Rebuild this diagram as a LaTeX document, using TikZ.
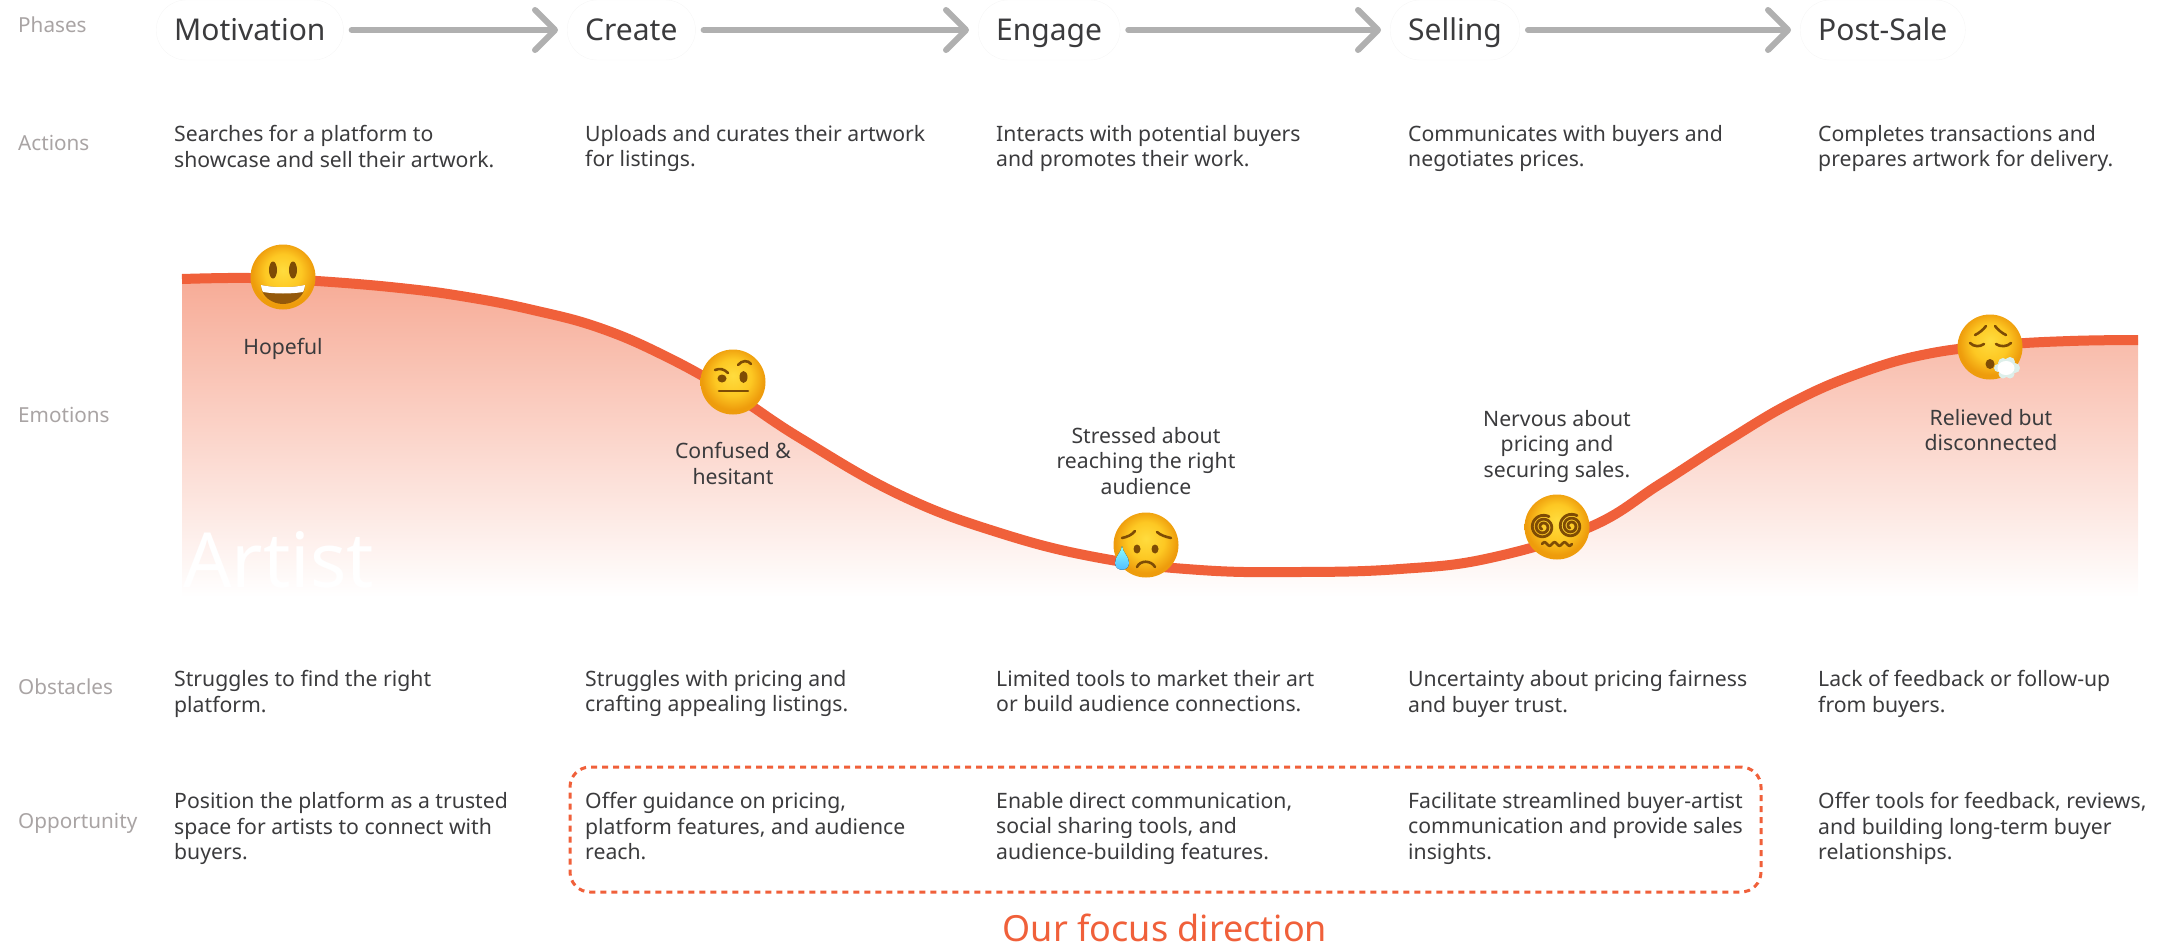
\documentclass[tikz,border=0pt]{standalone}
\usepackage{fontspec}
\setmainfont{Noto Sans}
\usetikzlibrary{arrows.meta}

\definecolor{curveorange}{HTML}{F0603A}
\definecolor{fillorange}{HTML}{F7AB96}
\definecolor{bodygray}{HTML}{3B3B3D}
\definecolor{labelgray}{HTML}{A9A4A4}
\definecolor{arrowgray}{HTML}{B0B0B0}
\definecolor{ringgray}{HTML}{F6F6F6}
\definecolor{faceyellow}{HTML}{FFDC3E}
\definecolor{facemid}{HTML}{FDC823}
\definecolor{faceedge}{HTML}{EE9C0C}
\definecolor{facebrown}{HTML}{7E4C05}
\definecolor{mouthbrown}{HTML}{94590A}
\definecolor{steamblue}{HTML}{DDEFEA}

\pgfdeclareradialshading{emojiball}{\pgfpoint{0bp}{5bp}}{color(0bp)=(faceyellow); color(14bp)=(facemid); color(24bp)=(faceedge); color(50bp)=(faceedge)}

\newcommand{\emotioncurve}{plot[smooth,tension=.7] coordinates {(182,279) (250,278) (317,281) (400,288) (467,297) (533,310) (600,328) (667,357) (733,394) (800,438) (900,495) (1000,533) (1100,558) (1200,570) (1300,572) (1400,569) (1490,558) (1590,527) (1660,484) (1727,441) (1793,402) (1860,373) (1927,354) (2000,345) (2070,341) (2138,340)}}

\tikzset{
  rowlabel/.style={anchor=west,inner sep=0pt,text=labelgray,font=\fontsize{20.7}{24}\selectfont},
  phasenode/.style={anchor=west,draw=ringgray,rounded corners=30pt,inner xsep=18pt,inner ysep=0pt,minimum height=60pt,text height=27pt,text depth=5pt,text=bodygray,font=\fontsize{30}{34}\selectfont},
  phasearrow/.style={arrowgray,line width=6pt,line cap=round,-{Straight Barb[length=20pt,width=40pt,round]},shorten <=8pt,shorten >=9pt},
  celltext/.style={anchor=north west,inner sep=0pt,align=left,text=bodygray,font=\fontsize{21.2}{25.6}\selectfont},
  moodtext/.style={anchor=north,inner sep=0pt,align=center,text=bodygray,font=\fontsize{21.2}{25.6}\selectfont},
  emojiface/.style={circle,inner sep=0pt,minimum size=65pt,shading=emojiball},
  emojiline/.style={facebrown,line width=2.6pt,line cap=round},
  focusbox/.style={draw=curveorange,line width=3pt,dash pattern=on 6pt off 5pt,rounded corners=20pt,inner sep=0pt,minimum width=1191pt,minimum height=125pt},
  hopefulface/.pic={
    \fill[facebrown] (-10,-7) ellipse (4 and 8.5) (10,-7) ellipse (4 and 8.5);
    \fill[mouthbrown] (-22,8) .. controls (-8,11) and (8,11) .. (22,8) .. controls (22,20) and (10,27) .. (0,27) .. controls (-10,27) and (-22,20) .. (-22,8) -- cycle;
    \fill[white] (-22,8) .. controls (-8,11) and (8,11) .. (22,8) .. controls (22,11) and (21,13) .. (20,15) .. controls (8,17) and (-8,17) .. (-20,15) .. controls (-21,13) and (-22,11) .. (-22,8) -- cycle;
  },
  hesitantface/.pic={
    \fill[facebrown] (-11,-3.5) ellipse (4.5 and 4) (10.5,-5) ellipse (4 and 6);
    \draw[emojiline] (-18,-12) .. controls (-13,-14) and (-9,-13) .. (-5,-9);
    \draw[emojiline] (5,-17) .. controls (9,-22) and (15,-22) .. (18,-18);
    \draw[emojiline] (-14,9) -- (15,9);
  },
  sadface/.pic={
    \fill[facebrown] (-9,4) ellipse (3.5 and 4.5) (9,4) ellipse (3.5 and 4.5);
    \draw[emojiline] (-24,-7) .. controls (-19,-8) and (-14,-10) .. (-11,-14);
    \draw[emojiline] (11,-13) .. controls (14,-10) and (20,-8) .. (25,-7);
    \draw[emojiline] (-9,22) .. controls (-6,15) and (5,15) .. (9,22);
    \fill[top color=cyan!45!white,bottom color=cyan!60!blue!70!white] (-24,1) .. controls (-23,8) and (-17,11) .. (-17,18) .. controls (-17,27) and (-31,27) .. (-31,18) .. controls (-31,11) and (-25,8) .. (-24,1) -- cycle;
  },
  dizzyface/.pic={
    \draw[emojiline,line width=2.8pt] plot[smooth,domain=120:1020,samples=70,variable=\t] ({-14+(1+\t/1020*11)*cos(\t)},{(1+\t/1020*11)*sin(\t)});
    \draw[emojiline,line width=2.8pt] plot[smooth,domain=120:1020,samples=70,variable=\t] ({14+(1+\t/1020*11)*cos(\t)},{-1+(1+\t/1020*11)*sin(\t)});
    \draw[emojiline] plot[smooth,domain=-15:15,samples=30,variable=\t] ({\t},{17+1.8*sin(\t*36)});
  },
  sighface/.pic={
    \draw[emojiline] (-15,-12) .. controls (-11,-14) and (-7,-17) .. (-4,-21);
    \draw[emojiline] (5,-21) .. controls (8,-17) and (12,-14) .. (16,-12);
    \draw[emojiline] (-20,-4) .. controls (-16,0) and (-10,0) .. (-6,-3);
    \draw[emojiline] (6,-3) .. controls (10,0) and (17,0) .. (21,-4);
    \fill[facebrown] (0,17) ellipse (4.5 and 5);
    \fill[steamblue] (8,21) circle (4) (13,16) circle (5) (20,15) circle (5) (25,21) circle (5) (20,27) circle (4.5) (13,27) circle (4.5);
    \fill[white] (16,21) ellipse (8.5 and 7);
  },
}

\begin{document}
\begin{tikzpicture}[x=1pt,y=-1pt]
  \useasboundingbox (0,0) rectangle (2175,950);

  % row labels
  \node[rowlabel] (phases) at (18,25){Phases};
  \node[rowlabel] (actions) at (18,143){Actions};
  \node[rowlabel] (emotions) at (18,415){Emotions};
  \node[rowlabel] (obstacles) at (18,687){Obstacles};
  \node[rowlabel] (opportunity) at (18,823){Opportunity};

  % phases
  \node[phasenode] (motivation) at (156,30){Motivation};
  \node[phasenode] (create) at (567,30){Create};
  \node[phasenode] (engage) at (978,30){Engage};
  \node[phasenode] (selling) at (1390,30){Selling};
  \node[phasenode] (postsale) at (1800,30){Post-Sale};

  \draw (motivation) edge[phasearrow] (create);
  \draw (create) edge[phasearrow] (engage);
  \draw (engage) edge[phasearrow] (selling);
  \draw (selling) edge[phasearrow] (postsale);

  % actions
  \node[celltext] (search) at (174,125){Searches for a platform to\\showcase and sell their artwork.};
  \node[celltext] (upload) at (585,125){Uploads and curates their artwork\\for listings.};
  \node[celltext] (interact) at (996,125){Interacts with potential buyers\\and promotes their work.};
  \node[celltext] (communicate) at (1408,125){Communicates with buyers and\\negotiates prices.};
  \node[celltext] (complete) at (1818,125){Completes transactions and\\prepares artwork for delivery.};

  % emotion curve
  \shade[top color=fillorange,bottom color=white] \emotioncurve -- (2138,597) -- (182,597) -- cycle;
  \node[anchor=base west,inner sep=0pt,text=white,font=\fontsize{76}{84}\selectfont] (artist) at (183,587){Artist};
  \draw[curveorange,line width=10pt] \emotioncurve;

  \node[emojiface] (hopeful) at (283,277){};
  \node[emojiface] (hesitant) at (733,382){};
  \node[emojiface] (stressed) at (1146,545){};
  \node[emojiface] (nervous) at (1557,527){};
  \node[emojiface] (relieved) at (1990,347){};
  \pic at (hopeful) {hopefulface};
  \pic at (hesitant) {hesitantface};
  \pic at (stressed) {sadface};
  \pic at (nervous) {dizzyface};
  \pic at (relieved) {sighface};

  \node[moodtext] (hopefultext) at (283,338){Hopeful};
  \node[moodtext] (hesitanttext) at (733,442){Confused \&\\hesitant};
  \node[moodtext] (stressedtext) at (1146,427){Stressed about\\reaching the right\\audience};
  \node[moodtext] (nervoustext) at (1557,410){Nervous about\\pricing and\\securing sales.};
  \node[moodtext] (relievedtext) at (1991,409){Relieved but\\disconnected};

  % obstacles
  \node[celltext] (findplatform) at (174,670){Struggles to find the right\\platform.};
  \node[celltext] (pricing) at (585,670){Struggles with pricing and\\crafting appealing listings.};
  \node[celltext] (tools) at (996,670){Limited tools to market their art\\or build audience connections.};
  \node[celltext] (fairness) at (1408,670){Uncertainty about pricing fairness\\and buyer trust.};
  \node[celltext] (feedback) at (1818,670){Lack of feedback or follow-up\\from buyers.};

  % opportunity
  \node[celltext] (position) at (174,792){Position the platform as a trusted\\space for artists to connect with\\buyers.};
  \node[celltext] (guidance) at (585,792){Offer guidance on pricing,\\platform features, and audience\\reach.};
  \node[celltext] (direct) at (996,792){Enable direct communication,\\social sharing tools, and\\audience-building features.};
  \node[celltext] (streamline) at (1408,792){Facilitate streamlined buyer-artist\\communication and provide sales\\insights.};
  \node[celltext] (reviews) at (1818,792){Offer tools for feedback, reviews,\\and building long-term buyer\\relationships.};

  \node[focusbox] (focus) at (1165.5,829.5){};
  \node[text=curveorange,inner sep=0pt,font=\fontsize{36}{40}\selectfont] (focuslabel) at (1165,928){Our focus direction};
\end{tikzpicture}
\end{document}
